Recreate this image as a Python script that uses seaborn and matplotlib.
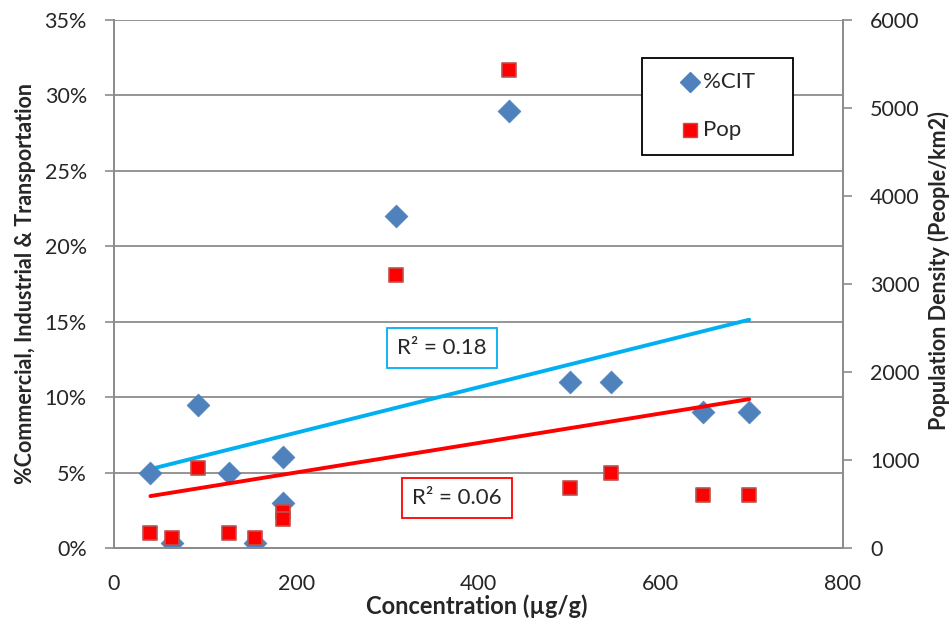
import numpy as np
import pandas as pd
import matplotlib
matplotlib.use("Agg")
import matplotlib.pyplot as plt
import seaborn as sns
from matplotlib.ticker import MultipleLocator, FuncFormatter
from matplotlib.lines import Line2D
from matplotlib.patches import Rectangle

# ---- data ----
conc = [40, 64, 92, 126, 155, 185, 185, 309, 433, 500, 545, 646, 697]
cit = [5.0, 0.3, 9.5, 5.0, 0.3, 6.0, 3.0, 22.0, 29.0, 11.0, 11.0, 9.0, 9.0]
conc_pop = [40, 64, 92, 126, 155, 185, 185, 309, 433, 500, 545, 646, 697]
pop = [174, 110, 906, 174, 110, 405, 326, 3100, 5430, 678, 849, 602, 602]
series_names = ["%CIT", "Pop"]
r2_labels = ["R² = 0.18", "R² = 0.06"]

df_cit = pd.DataFrame({"conc": conc, "cit": cit})
df_pop = pd.DataFrame({"conc": conc_pop, "pop": pop})

sns.set_style("white")
plt.rcParams["font.family"] = ["Lato", "DejaVu Sans"]

W, H = 953, 628
L, R, T, B = 114, 843, 20, 548
fig = plt.figure(figsize=(W / 100, H / 100), dpi=100)
ax = fig.add_axes([L / W, 1 - B / H, (R - L) / W, (B - T) / H])
ax2 = ax.twinx()

grid_c = "#8c8c8c"
blue = "#4F81BD"
red = "#FF0000"
cyan = "#00B0F0"
FS = 16
TFS = 15.5

# trendlines
sns.regplot(data=df_cit, x="conc", y="cit", ax=ax, scatter=False, ci=None,
            truncate=True, line_kws=dict(color=cyan, lw=2.8, zorder=3))
sns.regplot(data=df_pop, x="conc", y="pop", ax=ax2, scatter=False, ci=None,
            truncate=True, line_kws=dict(color=red, lw=2.8, zorder=3))

# scatter points
sns.scatterplot(data=df_cit, x="conc", y="cit", ax=ax, marker="D", s=135,
                color=blue, edgecolor=blue, linewidth=0.5, zorder=4, legend=False)
sns.scatterplot(data=df_pop, x="conc", y="pop", ax=ax2, marker="s", s=100,
                color=red, edgecolor="#C0504D", linewidth=1.2, zorder=4, legend=False)

ax.set_xlim(0, 800)
ax.set_ylim(0, 35)
ax2.set_ylim(0, 6000)

ax.xaxis.set_major_locator(MultipleLocator(200))
ax.xaxis.set_minor_locator(MultipleLocator(40))
ax.yaxis.set_major_locator(MultipleLocator(5))
ax2.yaxis.set_major_locator(MultipleLocator(1000))
ax.yaxis.set_major_formatter(FuncFormatter(lambda v, p: f"{v:.0f}%"))

ax.grid(axis="y", color=grid_c, lw=1.3)
ax.set_axisbelow(True)
for a in (ax, ax2):
    for s in a.spines.values():
        s.set_color(grid_c)
        s.set_linewidth(1.3)
    a.spines["top"].set_visible(False)

ax.tick_params(axis="x", which="both", direction="out", length=6.5, width=1.2,
               color=grid_c, labelsize=TFS, pad=12)
ax.tick_params(axis="y", direction="out", length=6.5, width=1.2, color=grid_c,
               labelsize=TFS, pad=13)
ax2.tick_params(axis="y", direction="out", length=6.5, width=1.2, color=grid_c,
                labelsize=TFS, pad=13)

ax.set_xlabel("Concentration (µg/g)", fontsize=17, fontweight="bold")
ax.set_ylabel("%Commercial, Industrial & Transportation", fontsize=15.5,
              fontweight="bold")
ax2.set_ylabel("Population Density (People/km2)", fontsize=15.5,
               fontweight="bold")
ax.xaxis.set_label_coords((477 - L) / (R - L), (B - 594) / (B - T))
ax.yaxis.set_label_coords((36 - L) / (R - L), (B - 283) / (B - T))
ax2.yaxis.set_label_coords((928 - L) / (R - L), (B - 271) / (B - T))

# R² boxes
fig.text(442 / W, 1 - 348 / H, r2_labels[0], fontsize=FS, ha="center", va="center",
         bbox=dict(boxstyle="square,pad=0.45", fc="white", ec=cyan, lw=1.3))
fig.text(457 / W, 1 - 498 / H, r2_labels[1], fontsize=FS, ha="center", va="center",
         bbox=dict(boxstyle="square,pad=0.45", fc="white", ec=red, lw=1.3))

# legend box
fig.add_artist(Rectangle((642 / W, 1 - 155 / H), 151 / W, 97 / H,
                         transform=fig.transFigure, fc="white", ec="black",
                         lw=1.3, zorder=10))
fig.add_artist(Line2D([690 / W], [1 - 82 / H], marker="D", ls="", color=blue,
                      markersize=10, transform=fig.transFigure, zorder=11))
fig.add_artist(Line2D([690 / W], [1 - 130 / H], marker="s", ls="", color=red,
                      markeredgecolor="#C0504D", markersize=10,
                      transform=fig.transFigure, zorder=11))
fig.text(703 / W, 1 - 82 / H, series_names[0], fontsize=FS, va="center",
         ha="left", zorder=11)
fig.text(703 / W, 1 - 130 / H, series_names[1], fontsize=FS, va="center",
         ha="left", zorder=11)

fig.savefig("out.png", dpi=100)
